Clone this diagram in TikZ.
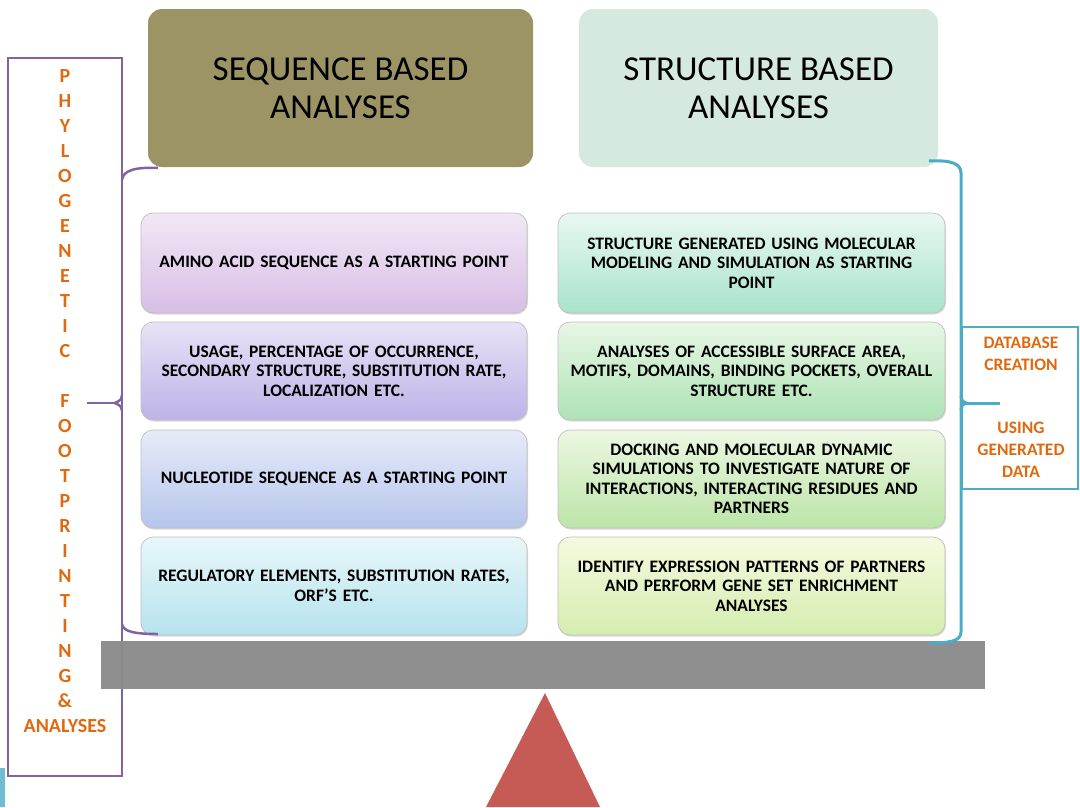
\documentclass[tikz,border=0pt]{standalone}
\usepackage{fontspec}
\setmainfont{Carlito}
\usetikzlibrary{shadows}
\definecolor{olivehead}{HTML}{9C9464}
\definecolor{mintHead}{HTML}{D6E9E0}
\definecolor{orangetxt}{HTML}{E0690F}
\definecolor{purplebr}{HTML}{8064A2}
\definecolor{bluebr}{HTML}{4BACC6}
\definecolor{bargrey}{HTML}{8A8A8A}
\definecolor{redtri}{HTML}{C65B55}
\definecolor{lAt}{HTML}{F2E8F5}\definecolor{lAb}{HTML}{D7BEE6}
\definecolor{lBt}{HTML}{E8E2F6}\definecolor{lBb}{HTML}{BDB3E8}
\definecolor{lCt}{HTML}{E6EBF8}\definecolor{lCb}{HTML}{B6C5EC}
\definecolor{lDt}{HTML}{E8F7F9}\definecolor{lDb}{HTML}{B6E3EE}
\definecolor{rAt}{HTML}{E8F8F2}\definecolor{rAb}{HTML}{A9E3CC}
\definecolor{rBt}{HTML}{E8F7E6}\definecolor{rBb}{HTML}{AEE3B4}
\definecolor{rCt}{HTML}{ECF7E2}\definecolor{rCb}{HTML}{BCE5A8}
\definecolor{rDt}{HTML}{F5FADF}\definecolor{rDb}{HTML}{D5EDB0}
\tikzset{
  headbox/.style={rounded corners=14pt, minimum width=385pt, minimum height=158pt,
    align=center, font=\fontsize{35}{38}\selectfont, inner sep=0pt},
  itembox/.style={rounded corners=12pt, draw=gray!50, line width=0.7pt,
    minimum width=386pt, minimum height=98pt, text width=372pt, align=center,
    inner sep=0pt, font=\fontsize{17.5}{19.5}\selectfont\bfseries,
    drop shadow={shadow xshift=1pt, shadow yshift=-1.5pt, opacity=0.3}},
  sidetxt/.style={text=orangetxt, align=center, inner sep=0pt},
  pline/.style={draw=purplebr, line width=2.5pt},
  bline/.style={draw=bluebr, line width=3pt},
}
\begin{document}
\begin{tikzpicture}[x=1pt,y=-1pt]
\useasboundingbox (0,0) rectangle (1080,807);
% small blue mark
\fill[bluebr!80] (0,768) rectangle (5,807);

% header boxes
\node[headbox, fill=olivehead] (seqhead) at (340.5,88) {SEQUENCE BASED\\ANALYSES};
\node[headbox, fill=mintHead, minimum width=359pt] (strhead) at (758.5,88) {STRUCTURE BASED\\ANALYSES};

% left item boxes
\node[itembox, top color=lAt, bottom color=lAb, minimum height=100pt] (l1) at (334,263) {AMINO ACID SEQUENCE AS A STARTING POINT};
\node[itembox, top color=lBt, bottom color=lBb] (l2) at (334,371) {USAGE, PERCENTAGE OF OCCURRENCE,\\SECONDARY STRUCTURE, SUBSTITUTION RATE,\\LOCALIZATION ETC.};
\node[itembox, top color=lCt, bottom color=lCb] (l3) at (334,479) {NUCLEOTIDE SEQUENCE AS A STARTING POINT};
\node[itembox, top color=lDt, bottom color=lDb] (l4) at (334,586) {REGULATORY ELEMENTS, SUBSTITUTION RATES,\\ORF'S ETC.};

% right item boxes
\node[itembox, top color=rAt, bottom color=rAb, minimum width=387pt, minimum height=100pt] (r1) at (751.5,263) {STRUCTURE GENERATED USING MOLECULAR\\MODELING AND SIMULATION AS STARTING\\POINT};
\node[itembox, top color=rBt, bottom color=rBb, minimum width=387pt] (r2) at (751.5,371) {ANALYSES OF ACCESSIBLE SURFACE AREA,\\MOTIFS, DOMAINS, BINDING POCKETS, OVERALL\\STRUCTURE ETC.};
\node[itembox, top color=rCt, bottom color=rCb, minimum width=387pt] (r3) at (751.5,479) {DOCKING AND MOLECULAR DYNAMIC\\SIMULATIONS TO INVESTIGATE NATURE OF\\INTERACTIONS, INTERACTING RESIDUES AND\\PARTNERS};
\node[itembox, top color=rDt, bottom color=rDb, minimum width=387pt] (r4) at (751.5,586) {IDENTIFY EXPRESSION PATTERNS OF PARTNERS\\AND PERFORM GENE SET ENRICHMENT\\ANALYSES};

% left bracket box and brace
\node[draw=purplebr, line width=2.2pt, minimum width=114pt, minimum height=718pt, inner sep=0pt] (phybox) at (65,417) {};
\node[sidetxt, font=\fontsize{20}{25}\selectfont\bfseries, anchor=north] (phylo) at (65,69)
  {P\\H\\Y\\L\\O\\G\\E\\N\\E\\T\\I\\C\\[25pt]F\\O\\O\\T\\P\\R\\I\\N\\T\\I\\N\\G\\\&\\ANALYSES};
\draw[pline] (158,168) .. controls (136,167) and (123,170) .. (122,180);
\draw[pline] (122,624) .. controls (123,632) and (136,634) .. (158,634);
\draw[pline] (122,395) .. controls (121,400) .. (115,403) .. controls (121,406) .. (122,411);
\coordinate (ptip) at (87,403);
\draw[pline] (115,403) -- (ptip);

% balance bar and fulcrum
\fill[bargrey, opacity=0.96] (101,641) rectangle (985,689);
\coordinate (bar) at (543,665);
\fill[redtri] (545,693) -- (486,807) -- (600,807) -- cycle;

% right brace and box
\draw[bline] (929,161) .. controls (950,160) and (961,163) .. (961,173) -- (961,632) .. controls (961,641) and (950,643) .. (929,643);
\draw[bline] (961,396) .. controls (962,401) .. (966,403) .. controls (962,405) .. (961,410);
\coordinate (btip) at (1000,403);
\draw[bline] (966,403) -- (btip);
\draw[draw=bluebr, line width=2pt] (962,327) rectangle (1078,489);
\node[sidetxt, font=\fontsize{17.5}{22}\selectfont\bfseries] (dbc) at (1021,354) {DATABASE\\CREATION};
\node[sidetxt, font=\fontsize{17.5}{22}\selectfont\bfseries] (ugd) at (1021,450) {USING\\GENERATED\\DATA};
\end{tikzpicture}
\end{document}
